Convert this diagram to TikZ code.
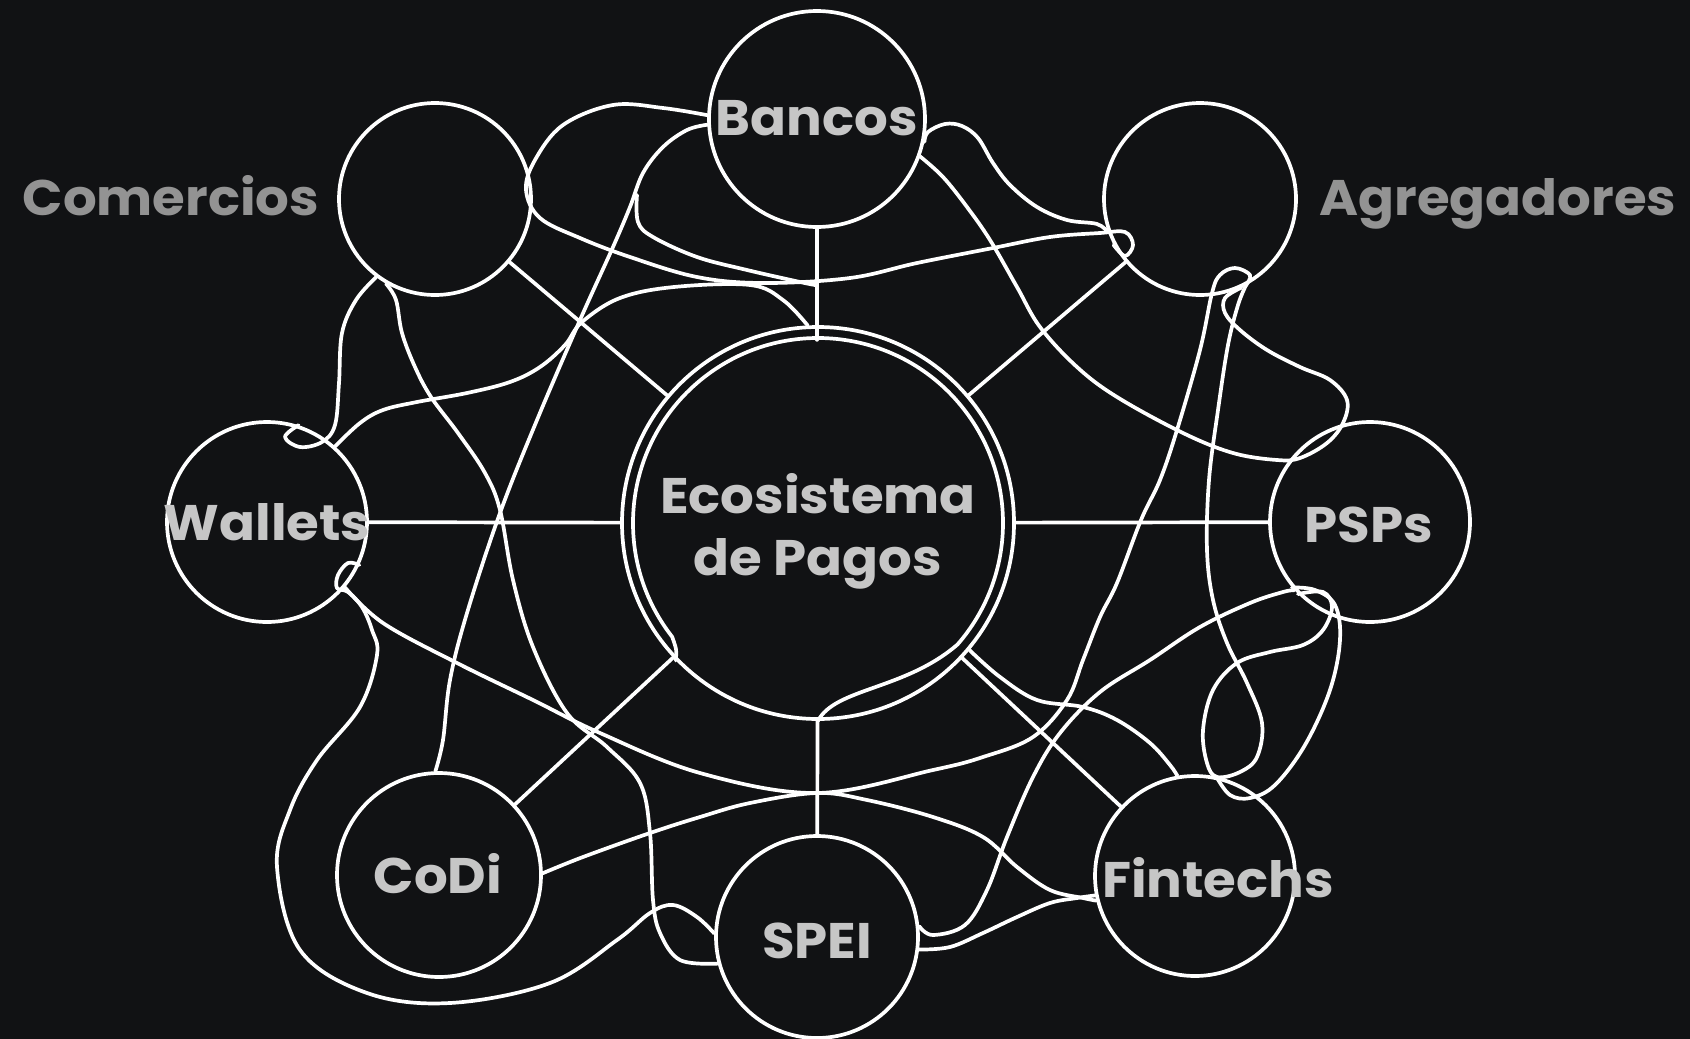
\documentclass[tikz,border=0pt]{standalone}
\usepackage{fontspec}
\setmainfont{Poppins}[FakeStretch=1.06]
\usetikzlibrary{calc}
\definecolor{bg}{HTML}{111214}
\definecolor{inlab}{HTML}{C6C6C6}
\definecolor{outlab}{HTML}{939393}
\begin{document}
\begin{tikzpicture}[x=1pt,y=1pt,
  ring/.style={draw=white, line width=3.7pt, circle, inner sep=0pt},
  link/.style={draw=white, line width=3.7pt, line cap=round, line join=round},
  lab/.style={text=inlab, font=\fontsize{50}{50}\selectfont\bfseries, anchor=base, inner sep=0pt},
  olab/.style={lab, text=outlab}]
\fill[bg] (0,0) rectangle (1690,-1039);
\useasboundingbox (0,0) rectangle (1690,-1039);

% circles
\node[ring, minimum size=216pt] (bancos) at (817,-119) {};
\node[ring, minimum size=192pt] (comercios) at (435,-199) {};
\node[ring, minimum size=192pt] (agreg) at (1200,-199) {};
\node[ring, minimum size=200pt] (wallets) at (267,-522) {};
\node[ring, minimum size=200pt] (psps) at (1370,-522) {};
\node[ring, minimum size=392pt] (eco) at (818,-523) {};
\node[ring, minimum size=204pt] (codi) at (439,-875) {};
\node[ring, minimum size=202pt] (spei) at (817,-937) {};
\node[ring, minimum size=200pt] (fintechs) at (1195,-876) {};

% inner ring of the centre
\draw[link] (eco.224) .. controls ($(eco.center)+(222:190)$) .. ($(eco.center)+(218:185)$)
  arc[start angle=218, end angle=-41, radius=185];
\draw[link] ($(eco.center)+(-41:185)$) .. controls (905,-690) and (835,-688) .. (eco.-90);

% spokes
\foreach \n in {comercios,agreg,wallets,psps,codi,spei,fintechs}
  \draw[link] (eco) -- (\n);
\draw[link] (bancos.south) -- ++(0,-111);

\coordinate (br1) at (637,-195);
\coordinate (knot) at (815,-285);

% curved connectors
\draw[link] plot[smooth, tension=0.6] coordinates {(bancos.178) (663,-108) (613,-105) (563,-125) (535,-160) (526,-190) (540,-218) (580,-238) (630,-257) (697,-277) (763,-283) (850,-278) (917,-263) (993,-248) (1050,-237) (1100,-233) (1125,-232) (1133,-245) (1125,-256) (agreg.208)};
\draw[link] plot[smooth, tension=0.6] coordinates {(bancos.-12) (928,-132) (945,-124) (962,-126) (978,-138) (993,-163) (1010,-185) (1037,-207) (1067,-220) (1097,-224) (agreg.200)};
\draw[link] plot[smooth, tension=0.6] coordinates {(bancos.183) (687,-130) (663,-147) (643,-173) (630,-207) (613,-247) (580,-320) (537,-420) (500,-513) (467,-613) (450,-680) (443,-740) (codi.92)};
\draw[link] plot[smooth, tension=0.6] coordinates {(br1) (638,-222) (653,-237) (697,-257) (747,-270) (800,-282) (knot)};
\draw[link] plot[smooth, tension=0.6] coordinates {(wallets.48) (360,-423) (383,-410) (417,-402) (467,-393) (510,-382) (540,-367) (565,-345) (582,-322) (620,-298) (674,-287) (750,-285) (783,-300) (eco.93)};
\draw[link] plot[smooth, tension=0.6] coordinates {(bancos.-20) (943,-177) (967,-207) (990,-240) (1017,-287) (1040,-327) (1077,-367) (1117,-397) (1183,-433) (1233,-453) (1277,-460) (1300,-458) (1327,-443) (1343,-423) (1347,-400) (1330,-380) (1300,-367) (1267,-350) (1240,-330) (1225,-313) (1225,-298) (agreg.-65)};
\draw[link] plot[smooth, tension=0.6] coordinates {(wallets.-40) (383,-623) (457,-663) (533,-700) (600,-733) (700,-773) (817,-793) (933,-770) (983,-757) (1033,-737) (1067,-700) (1083,-660) (1100,-617) (1117,-583) (1141,-520) (1160,-480) (1177,-430) (1200,-350) (1212,-293) (1220,-275) (1235,-268) (1250,-275) (agreg.-62)};
\draw[link] plot[smooth, tension=0.6] coordinates {(agreg.-62) (1238,-305) (1228,-345) (1218,-410) (1209,-480) (1207,-550) (1213,-600) (1227,-643) (1247,-683) (1262,-723) (1257,-757) (1240,-772) (1217,-777) (1207,-763) (1203,-730) (1213,-690) (1237,-663) (1270,-652) (1303,-645) (1323,-630) (1332,-607) (1323,-592) (psps.-135)};
\draw[link] plot[smooth, tension=0.6] coordinates {(psps.-140) (1315,-590) (1335,-605) (1340,-640) (1330,-690) (1305,-745) (1275,-785) (1250,-798) (1230,-795) (fintechs.78)};
\draw[link] plot[smooth, tension=0.6] coordinates {(spei.6) (933,-935) (965,-925) (987,-890) (1007,-837) (1033,-777) (1060,-733) (1100,-692) (1150,-660) (1200,-627) (1250,-603) (1283,-592) (psps.-138)};
\draw[link] plot[smooth, tension=0.6] coordinates {(eco.-40) (1000,-677) (1037,-700) (1083,-707) (1117,-720) (1150,-743) (1170,-765) (fintechs.100)};
\draw[link] plot[smooth, tension=0.6] coordinates {(codi.1) (583,-857) (650,-833) (700,-817) (750,-803) (817,-793) (867,-800) (933,-817) (983,-837) (1017,-867) (1050,-890) (1083,-898) (fintechs.194)};
\draw[link] plot[smooth, tension=0.6] coordinates {(spei.-7) (950,-947) (983,-933) (1017,-917) (1050,-903) (1077,-898) (fintechs.191)};
\draw[link] plot[smooth, tension=0.6] coordinates {(comercios.-120) (396,-300) (402,-333) (415,-367) (431,-397) (458,-433) (485,-473) (500,-510) (513,-580) (533,-647) (567,-713) (607,-747) (640,-783) (650,-833) (653,-900) (660,-933) (680,-960) (spei.195)};
\draw[link] plot[smooth, tension=0.6] coordinates {(wallets.-25) (348,-563) (338,-575) (337,-588) (348,-592) (362,-607) (372,-630) (377,-655) (360,-707) (317,-760) (290,-810) (277,-867) (300,-950) (367,-993) (450,-1003) (550,-983) (617,-940) (650,-913) (673,-905) (697,-917) (spei.178)};
\draw[link] plot[smooth, tension=0.6] coordinates {(comercios.-127) (356,-300) (342,-333) (339,-383) (335,-425) (322,-442) (300,-447) (285,-437) (wallets.72)};

% labels
\node[lab] (tBancos) at (817,-135) {Bancos};
\node[olab] (tComercios) at (171,-215) {Comercios};
\node[olab] (tAgreg) at (1498,-215) {Agregadores};
\node[lab] (tWallets) at (267,-540) {Wallets};
\node[lab] (tPSPs) at (1369,-542) {PSPs};
\node[lab] (tEco1) at (818,-513) {Ecosistema};
\node[lab] (tEco2) at (818,-575) {de Pagos};
\node[lab] (tCoDi) at (438,-893) {CoDi};
\node[lab] (tSPEI) at (817,-958) {SPEI};
\node[lab] (tFin) at (1218,-897) {Fintechs};
\end{tikzpicture}
\end{document}
